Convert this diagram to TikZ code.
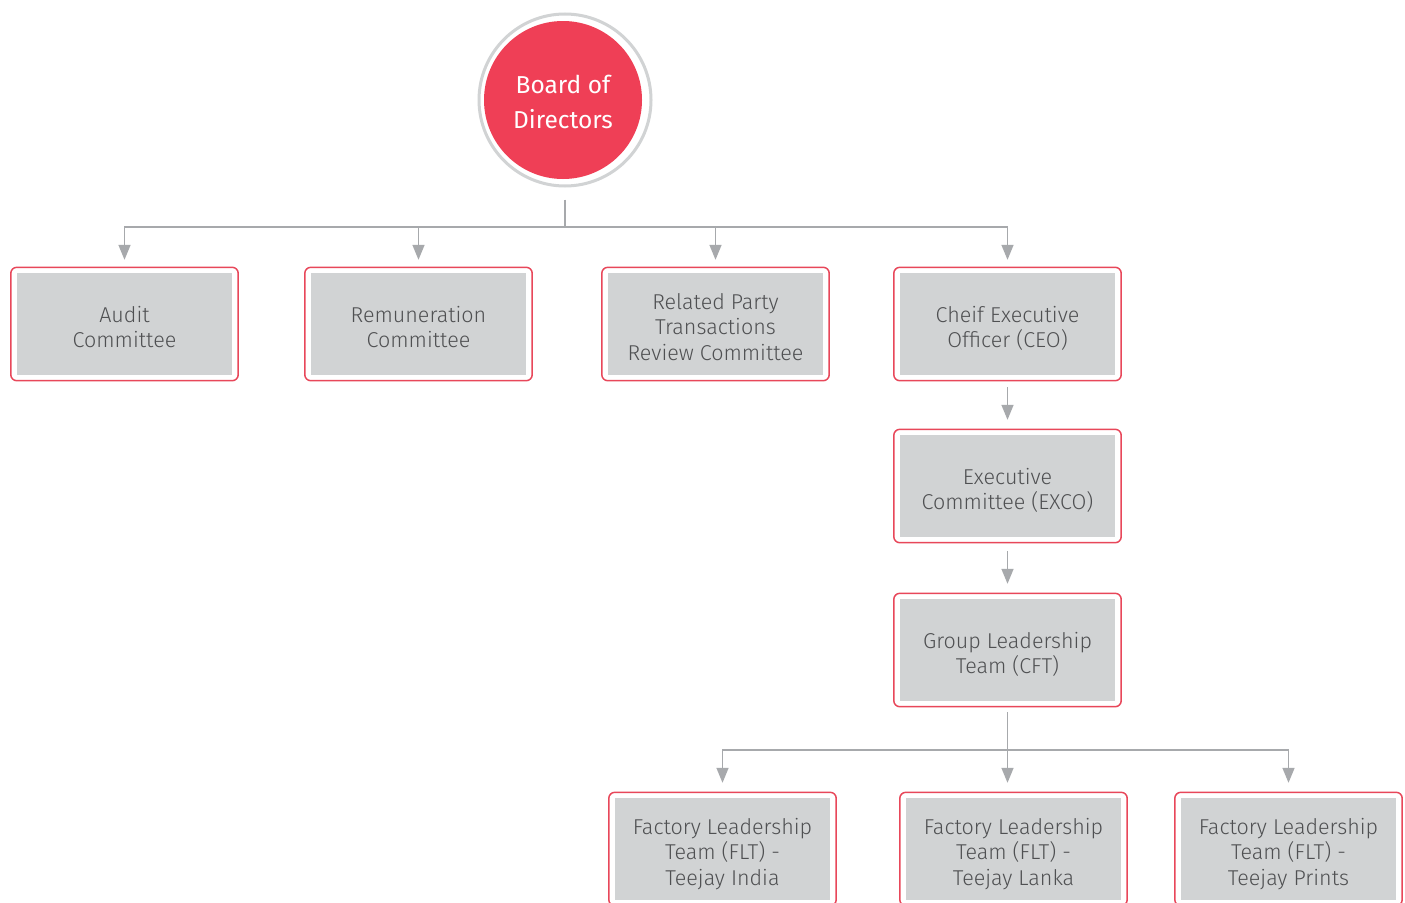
\documentclass[tikz,border=0pt]{standalone}
\usepackage{fontspec}
\setmainfont{Fira Sans Light}
\newfontfamily\boardfont{Fira Sans}
\usetikzlibrary{arrows.meta}
\definecolor{bred}{HTML}{EF3F56}
\definecolor{bxred}{HTML}{E8475A}
\definecolor{bxgray}{HTML}{D1D3D4}
\definecolor{lngray}{HTML}{A7A9AC}
\definecolor{txgray}{HTML}{4F5052}
\tikzset{
  orgbox/.style={fill=bxgray, minimum width=215pt, minimum height=102pt, inner sep=0pt,
    align=center, text=txgray, font=\fontsize{21.5}{25.7}\selectfont,
    text depth=0pt, text height=47.5pt,
    append after command={
      \pgfextra{\draw[bxred, line width=1.5pt, rounded corners=6pt]
        ([shift={(-6pt,5.5pt)}]\tikzlastnode.north west) rectangle
        ([shift={(6pt,-5.5pt)}]\tikzlastnode.south east);}
    }},
  threeline/.style={text height=73pt},
  conn/.style={draw=lngray, line width=1.5pt},
  arr/.style={conn, -{Triangle[length=15pt,width=12pt]}},
}
\begin{document}
\begin{tikzpicture}[x=1pt,y=-1pt]
\useasboundingbox (0,0) rectangle (1405,902);
\fill[white] (0,0) rectangle (1405,902);
% board
\node[circle, draw=bxgray, line width=3pt, minimum size=172pt, inner sep=0pt] (ring) at (565,100) {};
\node[circle, fill=bred, minimum size=158pt, inner sep=0pt, text=white, align=center,
  font=\boardfont\fontsize{24.5}{35}\selectfont, text depth=0pt, text height=57pt]
  (board) at (563,100) {Board of\\Directors};
% nodes
\node[orgbox] (audit) at (124.5,324) {Audit\\Committee};
\node[orgbox] (rem) at (418.5,324) {Remuneration\\Committee};
\node[orgbox, threeline] (rpt) at (715.5,324) {Related Party\\Transactions\\Review Committee};
\node[orgbox] (ceo) at (1007.5,324) {Cheif Executive\\Officer (CEO)};
\node[orgbox] (exco) at (1007.5,486) {Executive\\Committee (EXCO)};
\node[orgbox] (glt) at (1007.5,650) {Group Leadership\\Team (CFT)};
\node[orgbox, threeline] (india) at (722.5,849) {Factory Leadership\\Team (FLT) -\\Teejay India};
\node[orgbox, threeline] (lanka) at (1013.5,849) {Factory Leadership\\Team (FLT) -\\Teejay Lanka};
\node[orgbox, threeline] (prints) at (1288.5,849) {Factory Leadership\\Team (FLT) -\\Teejay Prints};
% junctions
\coordinate (s1) at ([yshift=-12pt]ring.south);
\coordinate (j1) at (s1 |- 0,227);
\coordinate (s2) at ([yshift=-11pt]glt.south);
\coordinate (j2) at (s2 |- 0,750);
% connectors
\draw[conn] (s1) -- (j1);
\draw[arr] (j1) -| ([yshift=13pt]audit.north);
\draw[arr] (j1) -| ([yshift=13pt]rem.north);
\draw[arr] (j1) -| ([yshift=13pt]rpt.north);
\draw[arr] (j1) -| ([yshift=13pt]ceo.north);
\draw[arr] ([yshift=-12pt]ceo.south) -- ([yshift=15pt]exco.north);
\draw[arr] ([yshift=-14pt]exco.south) -- ([yshift=15pt]glt.north);
\draw[conn] (s2) -- (j2);
\draw[arr] (j2) -| ([yshift=15pt]india.north);
\draw[arr] (j2) -- ([yshift=15pt]lanka.north -| j2);
\draw[arr] (j2) -| ([yshift=15pt]prints.north);
\end{tikzpicture}
\end{document}
